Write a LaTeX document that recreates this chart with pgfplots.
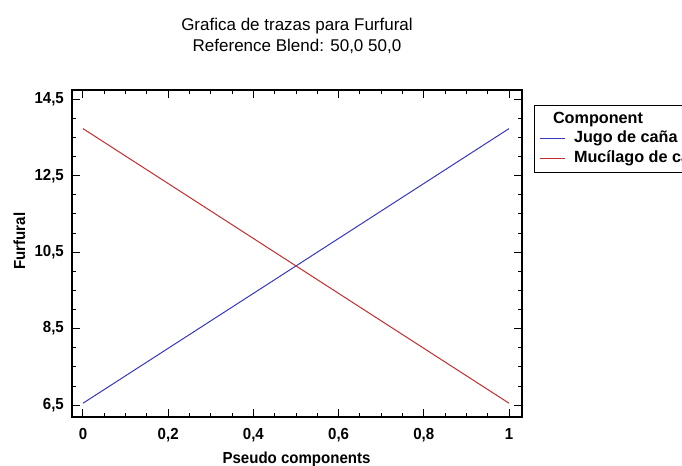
\documentclass[border=0pt]{standalone}
\usepackage{fontspec}
\setmainfont{Liberation Sans}
\newfontfamily\lblfont{Liberation Sans}[FakeStretch=0.94]
\usepackage{pgfplots}
\pgfplotsset{compat=1.18}
\definecolor{cblue}{RGB}{55,55,190}
\definecolor{cred}{RGB}{195,45,45}
\newcommand{\lf}{\lblfont\bfseries\fontsize{16bp}{19bp}\selectfont}
\newcommand{\legf}{\bfseries\fontsize{16.2bp}{19bp}\selectfont}
\begin{document}
\begin{tikzpicture}[x=1bp,y=1bp]
\useasboundingbox (0,0) rectangle (682,466);
\node[anchor=base,font=\fontsize{17bp}{20bp}\selectfont] at (297,435) {Grafica de trazas para Furfural};
\node[anchor=base,font=\fontsize{17bp}{20bp}\selectfont] at (297,414) {Reference Blend: 50,0 50,0};
\begin{axis}[
  at={(72bp,49bp)}, anchor=south west,
  scale only axis, width=450bp, height=327bp,
  xmin=-0.0258, xmax=1.0305, ymin=6.19, ymax=14.74,
  xtick={0,0.2,0.4,0.6,0.8,1},
  xticklabels={0,{0,2},{0,4},{0,6},{0,8},1},
  ytick={6.5,8.5,10.5,12.5,14.5},
  yticklabels={{6,5},{8,5},{10,5},{12,5},{14,5}},
  minor x tick num=3, minor y tick num=3,
  tick align=inside, tick pos=both,
  major tick length=8bp, minor tick length=4bp,
  every tick/.style={black, line width=1bp},
  axis line style={line width=1.5bp},
  /pgf/number format/assume math mode=true,
  tick label style={font=\lf},
  xticklabel style={anchor=base, inner sep=0pt, yshift=-23bp},
  yticklabel style={anchor=east, inner sep=0pt, xshift=-8bp},
  xlabel={Pseudo components}, ylabel={Furfural},
  every axis x label/.style={at={(axis description cs:0.4989,-0.1407)}, anchor=base, inner sep=0pt, font=\lf},
  every axis y label/.style={at={(axis description cs:-0.1167,0.538)}, rotate=90, anchor=center, inner sep=0pt, font=\lf},
  legend style={at={(axis description cs:1.0256,0.954)}, anchor=north west,
    draw=black, line width=1bp, font=\legf, row sep=0pt, column sep=7bp,
    inner xsep=5bp, inner ysep=4bp,
    nodes={inner ysep=1.75bp, text height=12bp, text depth=4bp}},
  legend cell align=left,
  legend image code/.code={\draw[#1, line width=1bp] (0bp,0bp) -- (25bp,0bp);},
]
\addlegendimage{empty legend}
\addlegendentry{\hspace{-21bp}Component}
\addplot[cblue, line width=1bp] coordinates {(0,6.55) (1,13.73)};
\addlegendentry{Jugo de caña}
\addplot[cred, line width=1bp] coordinates {(0,13.73) (1,6.55)};
\addlegendentry{Mucílago de caña}
\end{axis}
\end{tikzpicture}
\end{document}
